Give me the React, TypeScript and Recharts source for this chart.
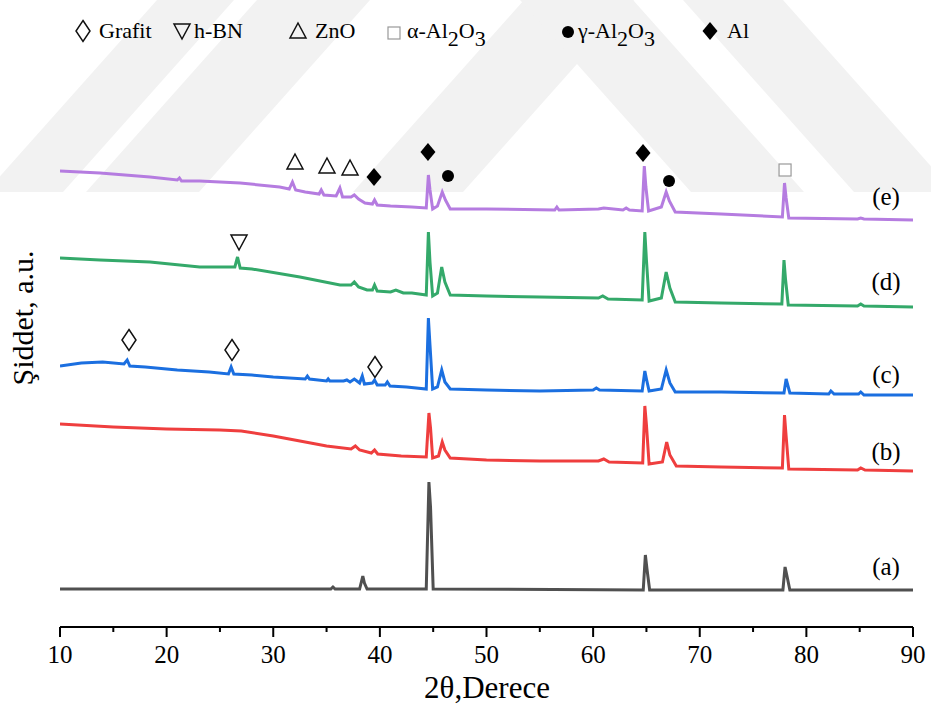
import React from "react";
import { ComposedChart, Line, Scatter, XAxis, YAxis } from "recharts";

// 2θ (deg) vs intensity (a.u., already offset per sample)
const sampleA: [number, number][] = [
  [10, 38], [20, 38], [30, 38], [35.4, 38], [35.6, 40], [35.8, 38], [38.1, 38], [38.4, 51], [38.55, 44], [38.8, 38],
  [44.35, 38], [44.6, 145], [44.75, 120], [45.0, 38], [64.7, 37], [64.9, 72], [65.05, 58], [65.3, 37],
  [77.8, 37], [78.0, 60], [78.2, 50], [78.45, 37], [90, 37],
];

const sampleB: [number, number][] = [
  [10, 203], [15, 200], [20, 198], [25, 197], [27, 196], [30, 191], [32.5, 186], [35, 181], [37.3, 178],
  [37.7, 181], [38.1, 177], [39.2, 174], [39.5, 177], [39.8, 173], [42, 171], [44.35, 170], [44.6, 214],
  [44.75, 199], [44.95, 169], [45.5, 171], [45.85, 185], [46.1, 177], [46.6, 169], [50, 167], [55, 166],
  [60.5, 166], [61, 168], [61.5, 165], [64.65, 164], [64.85, 221], [65.0, 202], [65.25, 163], [66.5, 165],
  [66.9, 185], [67.2, 172], [67.8, 161], [72, 160], [77.75, 159], [77.95, 212], [78.1, 191], [78.35, 158],
  [84.8, 157], [85.1, 159], [85.5, 157], [90, 156],
];

const sampleC: [number, number][] = [
  [10, 261], [12, 264], [14, 265], [16.0, 263], [16.3, 267], [16.55, 261], [18, 260], [21, 257], [24, 255],
  [25.8, 253], [26.05, 260], [26.3, 253], [28, 252], [30, 250], [33.0, 248], [33.2, 251], [33.4, 248],
  [35.0, 246], [35.15, 248], [35.3, 246], [36.6, 246], [36.9, 247], [37.2, 245], [37.6, 248], [38.1, 244],
  [38.35, 251], [38.55, 243], [39.3, 244], [39.5, 247], [39.75, 242], [40.5, 242], [40.7, 245], [40.95, 241],
  [42.5, 240], [44.35, 238], [44.55, 309], [44.7, 282], [44.95, 238], [45.4, 240], [45.8, 257], [46.1, 245],
  [46.6, 238], [50, 237], [55, 236], [60, 237], [60.3, 239], [60.6, 237], [64.6, 236], [64.85, 256],
  [65.0, 248], [65.25, 236], [66.4, 238], [66.85, 257], [67.2, 244], [67.7, 235], [72, 235], [77.9, 234],
  [78.1, 248], [78.25, 242], [78.45, 234], [82.1, 233], [82.3, 236], [82.6, 233], [84.9, 233], [85.1, 235],
  [85.4, 232], [90, 232],
];

const sampleD: [number, number][] = [
  [10, 369], [13.75, 367], [18.44, 365], [23.1, 360], [26.4, 360], [26.65, 370], [26.9, 359], [28, 358],
  [32.5, 350], [36.26, 342], [37.3, 342], [37.6, 345], [38.0, 340], [38.8, 337], [39.3, 337], [39.5, 342],
  [39.75, 336], [41.0, 335], [41.5, 337], [42.2, 334], [43, 334], [44.35, 332], [44.55, 395], [44.7, 365],
  [44.95, 331], [45.4, 334], [45.8, 360], [46.1, 345], [46.6, 332], [50, 331], [55, 330], [60.5, 329],
  [60.9, 331], [61.4, 328], [64.6, 327], [64.85, 395], [65.0, 367], [65.25, 326], [66.4, 329], [66.85, 355],
  [67.2, 339], [67.7, 325], [72, 324], [77.7, 323], [77.9, 367], [78.05, 347], [78.3, 322], [84.8, 321],
  [85.1, 323], [85.4, 321], [90, 320],
];

const sampleE: [number, number][] = [
  [10, 456], [13.75, 454], [18.44, 450], [21.0, 447], [21.2, 449], [21.4, 446], [23.1, 446], [26.9, 444],
  [30.6, 440], [31.5, 438], [31.8, 445], [32.1, 437], [33, 435], [34.3, 433], [34.5, 437], [34.75, 432],
  [35.9, 431], [36.25, 439], [36.5, 430], [37.3, 430], [37.6, 432], [38.0, 428], [38.6, 424], [39.3, 423],
  [39.5, 427], [39.75, 422], [41, 421], [43, 420], [44.35, 419], [44.55, 452], [44.7, 437], [44.95, 418],
  [45.4, 421], [45.85, 435], [46.15, 427], [46.6, 418], [50, 418], [56.4, 417], [56.6, 420], [56.8, 417],
  [60.5, 418], [61, 419], [62.8, 417], [63.1, 419], [63.4, 417], [64.6, 416], [64.8, 461], [64.95, 440],
  [65.2, 416], [66.4, 420], [66.85, 435], [67.15, 426], [67.7, 415], [72, 413], [77.75, 410], [77.95, 444],
  [78.1, 429], [78.35, 409], [84.8, 408], [85.1, 409], [85.4, 408], [90, 407],
];

// phase markers placed above peaks
const grafitMarks: [number, number][] = [[16.47, 287], [26.13, 277], [39.54, 260]];
const hbnMarks: [number, number][] = [[26.79, 385]];
const znoMarks: [number, number][] = [[32.04, 465], [35.04, 461], [37.2, 459]];
const alMarks: [number, number][] = [[39.45, 450], [44.51, 475], [64.68, 474]];
const gammaMarks: [number, number][] = [[46.39, 451], [67.12, 446]];
const alphaMarks: [number, number][] = [[78.0, 457]];

const xTicks = [10, 15, 20, 25, 30, 35, 40, 45, 50, 55, 60, 65, 70, 75, 80, 85, 90];
const sampleLabels = ["(a)", "(b)", "(c)", "(d)", "(e)"];

const pts = (arr: [number, number][]) => arr.map(([x, y]) => ({ x, y }));

const serif = { fontFamily: '"Liberation Serif", "Times New Roman", "DejaVu Serif", serif' };

type Kind = "lozenge" | "nabla" | "delta" | "square" | "dot" | "diamond";

const Glyph = ({ kind, cx, cy }: { kind: Kind; cx: number; cy: number }) => {
  switch (kind) {
    case "lozenge":
      return (
        <path
          d={`M${cx},${cy - 10.5} L${cx + 7},${cy} L${cx},${cy + 10.5} L${cx - 7},${cy} Z`}
          fill="none"
          stroke="#111"
          strokeWidth={1.5}
        />
      );
    case "nabla":
      return (
        <path
          d={`M${cx - 8},${cy - 7} L${cx + 8},${cy - 7} L${cx},${cy + 8} Z`}
          fill="none"
          stroke="#111"
          strokeWidth={1.5}
        />
      );
    case "delta":
      return (
        <path
          d={`M${cx},${cy - 8} L${cx + 8},${cy + 7} L${cx - 8},${cy + 7} Z`}
          fill="none"
          stroke="#111"
          strokeWidth={1.5}
        />
      );
    case "square":
      return <rect x={cx - 6} y={cy - 6} width={12} height={12} fill="#fff" stroke="#999" strokeWidth={1.2} />;
    case "dot":
      return <circle cx={cx} cy={cy} r={6} fill="#000" />;
    default:
      return <path d={`M${cx},${cy - 9} L${cx + 7.5},${cy} L${cx},${cy + 9} L${cx - 7.5},${cy} Z`} fill="#000" />;
  }
};

const markShape = (kind: Kind) => (props: any) => <Glyph kind={kind} cx={props.cx} cy={props.cy} />;

const XTick = (props: any) => {
  const { x, y, payload } = props;
  const major = payload.value % 10 === 0;
  return (
    <g>
      <line x1={x} x2={x} y1={y} y2={y + (major ? 10 : 5)} stroke="#000" strokeWidth={2} />
      {major && (
        <text x={x} y={y + 36} textAnchor="middle" fontSize={25} style={serif} fill="#000">
          {payload.value}
        </text>
      )}
    </g>
  );
};

// faint background watermark bands
const Watermark = () => (
  <svg width={931} height={711} style={{ position: "absolute", left: 0, top: 0 }}>
    <g fill="#f2f2f2">
      <polygon points="-14,192 63,192 234,0 157,0" />
      <polygon points="86,192 199,192 370,0 257,0" />
      <polygon points="353,192 463,192 634,0 524,0" />
      <polygon points="520,0 633,0 804,192 691,192" />
      <polygon points="683,0 783,0 954,192 854,192" />
    </g>
  </svg>
);

const Overlay = () => (
  <svg width={931} height={711} style={{ position: "absolute", left: 0, top: 0, pointerEvents: "none" }}>
    <g style={serif} fontSize={22} fill="#000">
      <Glyph kind="lozenge" cx={83} cy={31} />
      <text x={99} y={38}>Grafit</text>
      <Glyph kind="nabla" cx={182} cy={31} />
      <text x={194} y={38}>h-BN</text>
      <Glyph kind="delta" cx={298} cy={31} />
      <text x={315} y={38}>ZnO</text>
      <Glyph kind="square" cx={394} cy={33} />
      <text x={407} y={38}>
        α-Al<tspan dy={8}>2</tspan>
        <tspan dy={-8}>O</tspan>
        <tspan dy={8}>3</tspan>
      </text>
      <Glyph kind="dot" cx={568} cy={32} />
      <text x={578} y={38}>
        γ-Al<tspan dy={8}>2</tspan>
        <tspan dy={-8}>O</tspan>
        <tspan dy={8}>3</tspan>
      </text>
      <Glyph kind="diamond" cx={710} cy={31} />
      <text x={727} y={38}>Al</text>
    </g>
    <g style={serif} fontSize={25} fill="#000" textAnchor="middle">
      {sampleLabels.map((s, i) => (
        <text key={s} x={886} y={[575, 460, 383, 290, 205][i]}>
          {s}
        </text>
      ))}
    </g>
    <text x={487} y={698} textAnchor="middle" style={serif} fontSize={31} fill="#000">
      2θ,Derece
    </text>
    <text transform="translate(33,318) rotate(-90)" textAnchor="middle" style={serif} fontSize={30} fill="#000">
      Şiddet, a.u.
    </text>
  </svg>
);

export default function App() {
  const axisLine = { stroke: "#000", strokeWidth: 2 };
  return (
    <div style={{ position: "absolute", left: 0, top: 0, width: 931, height: 711, background: "#fff" }}>
      <Watermark />
      <div style={{ position: "absolute", left: 0, top: 0 }}>
        <ComposedChart width={931} height={711} margin={{ top: 3, right: 18, bottom: 24, left: 60 }}>
          <XAxis
            type="number"
            dataKey="x"
            domain={[10, 90]}
            ticks={xTicks}
            interval={0}
            tick={<XTick />}
            tickLine={false}
            tickSize={0}
            tickMargin={0}
            height={60}
            axisLine={axisLine}
            allowDataOverflow
          />
          <XAxis
            xAxisId="top"
            orientation="top"
            type="number"
            domain={[10, 90]}
            tick={false}
            tickLine={false}
            height={0}
            axisLine={axisLine}
          />
          <YAxis type="number" domain={[0, 624]} tick={false} tickLine={false} width={0} axisLine={axisLine} allowDataOverflow />
          <YAxis
            yAxisId="right"
            orientation="right"
            type="number"
            domain={[0, 624]}
            tick={false}
            tickLine={false}
            width={0}
            axisLine={axisLine}
          />
          <Line data={pts(sampleA)} dataKey="y" stroke="#505050" strokeWidth={3} dot={false} isAnimationActive={false} />
          <Line data={pts(sampleB)} dataKey="y" stroke="#ef3e3e" strokeWidth={3} dot={false} isAnimationActive={false} />
          <Line data={pts(sampleC)} dataKey="y" stroke="#1b6fe0" strokeWidth={3} dot={false} isAnimationActive={false} />
          <Line data={pts(sampleD)} dataKey="y" stroke="#34a96a" strokeWidth={3} dot={false} isAnimationActive={false} />
          <Line data={pts(sampleE)} dataKey="y" stroke="#b57ce0" strokeWidth={3} dot={false} isAnimationActive={false} />
          <Scatter data={pts(grafitMarks)} dataKey="y" shape={markShape("lozenge")} isAnimationActive={false} />
          <Scatter data={pts(hbnMarks)} dataKey="y" shape={markShape("nabla")} isAnimationActive={false} />
          <Scatter data={pts(znoMarks)} dataKey="y" shape={markShape("delta")} isAnimationActive={false} />
          <Scatter data={pts(alMarks)} dataKey="y" shape={markShape("diamond")} isAnimationActive={false} />
          <Scatter data={pts(gammaMarks)} dataKey="y" shape={markShape("dot")} isAnimationActive={false} />
          <Scatter data={pts(alphaMarks)} dataKey="y" shape={markShape("square")} isAnimationActive={false} />
        </ComposedChart>
      </div>
      <Overlay />
    </div>
  );
}
